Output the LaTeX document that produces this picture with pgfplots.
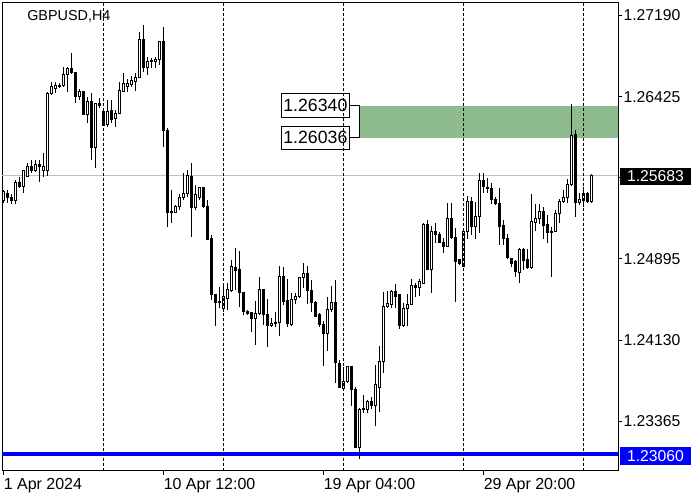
\documentclass[border=0pt]{standalone}
\usepackage{pgfplots}
\pgfplotsset{compat=1.18}
\usepackage{pgfplotstable}
\usepackage{fontspec}
\setmainfont{Liberation Sans}
\definecolor{zonegreen}{RGB}{143,188,143}
\definecolor{pricegrey}{RGB}{192,192,192}
\definecolor{mtblue}{RGB}{0,0,255}

\pgfplotstableread{
O H L C
1.25446 1.25546 1.25426 1.25526
1.25516 1.25546 1.25426 1.25476
1.25476 1.25506 1.25416 1.25446
1.25446 1.25636 1.25416 1.25616
1.25616 1.25666 1.25566 1.25576
1.25576 1.25726 1.25516 1.25726
1.25676 1.25796 1.25666 1.25766
1.25766 1.25826 1.25706 1.25726
1.25726 1.25826 1.25716 1.25786
1.25786 1.25826 1.25616 1.25766
1.25726 1.25896 1.25666 1.25766
1.25726 1.26466 1.25676 1.26456
1.26456 1.26566 1.26436 1.26516
1.26506 1.26566 1.26456 1.26526
1.26516 1.26556 1.26506 1.26526
1.26526 1.26706 1.26516 1.26636
1.26636 1.26706 1.26466 1.26686
1.26686 1.26836 1.26636 1.26656
1.26656 1.26656 1.26366 1.26426
1.26426 1.26496 1.26396 1.26476
1.26476 1.26476 1.26256 1.26256
1.26256 1.26426 1.26176 1.26376
1.26376 1.26456 1.25826 1.25946
1.25946 1.26356 1.25756 1.26356
1.26356 1.26416 1.26316 1.26346
1.26286 1.26296 1.26156 1.26156
1.26166 1.26396 1.26136 1.26286
1.26296 1.26396 1.26176 1.26206
1.26216 1.26296 1.26136 1.26266
1.26266 1.26566 1.26266 1.26486
1.26476 1.26646 1.26466 1.26546
1.26516 1.26596 1.26466 1.26546
1.26536 1.26616 1.26516 1.26576
1.26566 1.26646 1.26476 1.26606
1.26606 1.27036 1.26606 1.26966
1.26966 1.27096 1.26656 1.26696
1.26696 1.26796 1.26626 1.26756
1.26766 1.26786 1.26696 1.26756
1.26756 1.26796 1.26696 1.26776
1.26776 1.26946 1.26726 1.26946
1.26946 1.27086 1.25946 1.26106
1.26106 1.26126 1.25196 1.25336
1.25346 1.25546 1.25236 1.25336
1.25336 1.25406 1.25326 1.25386
1.25386 1.25506 1.25356 1.25476
1.25476 1.25706 1.25446 1.25516
1.25516 1.25736 1.25476 1.25686
1.25676 1.25796 1.25106 1.25376
1.25376 1.25596 1.25356 1.25506
1.25476 1.25576 1.25446 1.25566
1.25566 1.25576 1.25376 1.25386
1.25386 1.25446 1.25076 1.25076
1.25086 1.25116 1.24506 1.24556
1.24556 1.24556 1.24266 1.24486
1.24496 1.24626 1.24436 1.24486
1.24426 1.24646 1.24396 1.24536
1.24526 1.24666 1.24416 1.24606
1.24596 1.24886 1.24586 1.24826
1.24816 1.24996 1.24606 1.24786
1.24796 1.24966 1.24446 1.24576
1.24576 1.24576 1.24366 1.24396
1.24396 1.24416 1.24366 1.24376
1.24386 1.24396 1.24206 1.24336
1.24336 1.24496 1.24086 1.24376
1.24376 1.24726 1.24366 1.24606
1.24606 1.24606 1.24276 1.24366
1.24366 1.24516 1.24066 1.24266
1.24266 1.24336 1.24256 1.24286
1.24296 1.24396 1.24256 1.24286
1.24296 1.24826 1.24166 1.24726
1.24726 1.24816 1.24456 1.24496
1.24506 1.24706 1.24256 1.24286
1.24276 1.24576 1.24266 1.24516
1.24516 1.24576 1.24466 1.24536
1.24536 1.24726 1.24526 1.24716
1.24716 1.24856 1.24616 1.24756
1.24756 1.24826 1.24466 1.24596
1.24596 1.24696 1.24396 1.24486
1.24486 1.24496 1.24346 1.24356
1.24366 1.24386 1.24256 1.24276
1.24276 1.24306 1.23886 1.24196
1.24196 1.24536 1.24026 1.24416
1.24416 1.24636 1.24396 1.24486
1.24486 1.24696 1.23726 1.23916
1.23906 1.23946 1.23676 1.23686
1.23676 1.23876 1.23666 1.23736
1.23736 1.23886 1.23726 1.23876
1.23876 1.23886 1.23506 1.23666
1.23666 1.23686 1.23116 1.23116
1.23116 1.23486 1.23006 1.23476
1.23486 1.23616 1.23446 1.23476
1.23476 1.23566 1.23446 1.23546
1.23546 1.23596 1.23476 1.23516
1.23516 1.23896 1.23316 1.23706
1.23686 1.24076 1.23456 1.23926
1.23926 1.24586 1.23816 1.24446
1.24446 1.24596 1.24436 1.24476
1.24466 1.24606 1.24436 1.24586
1.24586 1.24656 1.24436 1.24536
1.24556 1.24556 1.24236 1.24266
1.24266 1.24476 1.24256 1.24426
1.24426 1.24566 1.24266 1.24466
1.24466 1.24706 1.24456 1.24646
1.24646 1.24666 1.24536 1.24626
1.24626 1.24706 1.24546 1.24686
1.24666 1.25236 1.24666 1.25216
1.25216 1.25266 1.24786 1.24796
1.24796 1.25206 1.24576 1.25156
1.25156 1.25236 1.25046 1.25126
1.25126 1.25146 1.25046 1.25046
1.25046 1.25096 1.24946 1.25016
1.25016 1.25426 1.25006 1.25276
1.25276 1.25426 1.25086 1.25096
1.25096 1.25186 1.24486 1.24866
1.24886 1.24896 1.24836 1.24856
1.24826 1.25186 1.24816 1.25156
1.25156 1.25486 1.25086 1.25436
1.25436 1.25476 1.25116 1.25196
1.25196 1.25436 1.25086 1.25296
1.25296 1.25706 1.25136 1.25636
1.25636 1.25706 1.25516 1.25576
1.25566 1.25656 1.25516 1.25556
1.25556 1.25606 1.25416 1.25456
1.25456 1.25476 1.25406 1.25416
1.25416 1.25566 1.25026 1.25196
1.25206 1.25266 1.25026 1.25086
1.25086 1.25126 1.24896 1.24906
1.24896 1.24896 1.24816 1.24856
1.24866 1.24886 1.24726 1.24776
1.24766 1.24996 1.24666 1.24986
1.24986 1.24996 1.24786 1.24876
1.24886 1.24986 1.24796 1.24816
1.24816 1.25506 1.24796 1.25246
1.25236 1.25416 1.25156 1.25276
1.25276 1.25416 1.25226 1.25346
1.25346 1.25386 1.25086 1.25206
1.25216 1.25306 1.25046 1.25146
1.25156 1.25196 1.24726 1.25146
1.25156 1.25356 1.25146 1.25326
1.25326 1.25456 1.25236 1.25436
1.25436 1.25546 1.25426 1.25476
1.25476 1.25646 1.25426 1.25596
1.25596 1.26356 1.25586 1.26056
1.26066 1.26106 1.25286 1.25426
1.25426 1.25516 1.25406 1.25456
1.25446 1.25576 1.25386 1.25516
1.25516 1.25526 1.25426 1.25436
1.25436 1.25696 1.25426 1.25683
}\ohlc

\pgfplotsset{
  chartbox/.style={
    scale only axis, width=462pt, height=351pt,
    at={(1.5pt,21.75pt)}, anchor=south west,
    xmin=-0.375, xmax=153.625, ymin=1.22895, ymax=1.27308,
  },
}

\begin{document}
\begin{tikzpicture}[x=0.75pt,y=0.75pt]
\useasboundingbox (0,0) rectangle (700,500);
\begin{axis}[chartbox,
  axis line style={black, line width=0.75pt},
  xtick={0,40,80,120},
  xticklabels={1 Apr 2024,10 Apr 12:00,19 Apr 04:00,29 Apr 20:00},
  ytick={1.23365,1.24130,1.24895,1.25660,1.26425,1.27190},
  yticklabels={1.23365,1.24130,1.24895,,1.26425,1.27190},
  xtick pos=left, ytick pos=right, yticklabel pos=right,
  tick align=outside, major tick length=3pt,
  tick style={black, line width=0.75pt},
  xticklabel style={font=\fontsize{12}{14}\selectfont, anchor=north west, inner sep=0pt, yshift=-2pt},
  yticklabel style={font=\fontsize{11.8}{14}\selectfont, anchor=west, inner sep=0pt, xshift=1pt},
]
\fill[zonegreen] (axis cs:88.875,1.26036) rectangle (axis cs:160,1.26340);
\draw[black, line width=0.75pt] (axis cs:86.625,1.26340) -- (axis cs:88.875,1.26340) -- (axis cs:88.875,1.26036) -- (axis cs:86.625,1.26036);
\addplot[pricegrey, line width=0.75pt] coordinates {(-1,1.25683) (160,1.25683)};
\addplot[mtblue, line width=3pt] coordinates {(-1,1.23060) (160,1.23060)};
\addplot[draw=none, mark=none, error bars/.cd, y dir=both, y explicit, error mark=none,
  error bar style={draw=black, line width=0.75pt, solid}]
  table[x expr=\coordindex, y=C, y error plus expr=\thisrow{H}-\thisrow{C}, y error minus expr=\thisrow{C}-\thisrow{L}] {\ohlc};
\node[draw=black, fill=white, line width=0.75pt, anchor=east, minimum width=51.2pt, minimum height=17.5pt, inner sep=0pt, font=\fontsize{13.3}{15}\selectfont] at (axis cs:86.625,1.26340) {1.26340};
\node[draw=black, fill=white, line width=0.75pt, anchor=east, minimum width=51.2pt, minimum height=17pt, inner sep=0pt, font=\fontsize{13.3}{15}\selectfont] at (axis cs:86.625,1.26036) {1.26036};
\end{axis}
\begin{axis}[chartbox, hide axis, ybar stacked, bar width=1.5pt]
\addplot[draw=none, fill=none] table[x expr=\coordindex, y expr={min(\thisrow{O},\thisrow{C})}] {\ohlc};
\addplot[draw=black, fill=white, line width=0.75pt] table[x expr=\coordindex, y expr={max(\thisrow{C}-\thisrow{O},0)}] {\ohlc};
\addplot[draw=black, fill=black, line width=0.75pt] table[x expr=\coordindex, y expr={max(\thisrow{O}-\thisrow{C},0)}] {\ohlc};
\end{axis}
\foreach \gx in {103,223,343,463,583} \draw[black, line width=0.75pt, dash pattern=on 2.25pt off 1.5pt] (\gx,29) -- (\gx,497);
\node[anchor=west, inner sep=0pt, font=\fontsize{10.8}{13}\selectfont] at (27,484) {GBPUSD,H4};
\node[fill=black, text=white, minimum width=53.25pt, minimum height=12.75pt, inner sep=0pt, font=\fontsize{11.8}{14}\selectfont] at (655.5,323.5) {1.25683};
\node[fill=mtblue, text=white, minimum width=53.25pt, minimum height=13.5pt, inner sep=0pt, font=\fontsize{11.8}{14}\selectfont] at (655.5,44) {1.23060};
\end{tikzpicture}
\end{document}
